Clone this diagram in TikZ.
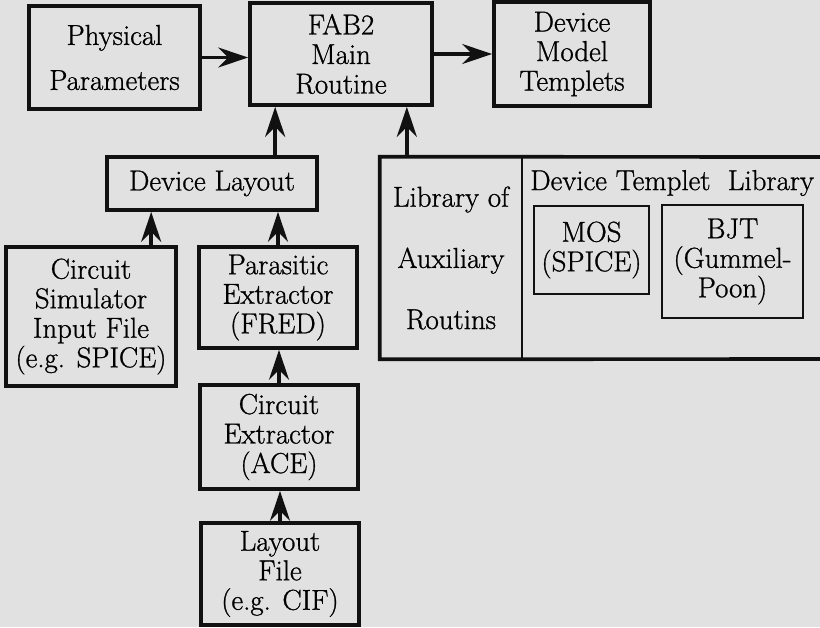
\documentclass[tikz,border=0pt]{standalone}
\usepackage{fontspec}
\setmainfont{Latin Modern Roman}[FakeBold=0.9]
\usetikzlibrary{arrows.meta}
\definecolor{fabpaper}{RGB}{225,225,225}
\definecolor{fabink}{RGB}{17,17,17}
\tikzset{
	blk/.style={draw=fabink, line width=2.6pt, align=center, inner sep=0pt, font=\fontsize{20.5}{21}\selectfont},
	subblk/.style={draw=fabink, line width=1.3pt, align=center, inner sep=0pt, font=\fontsize{20.5}{21}\selectfont},
	lbl/.style={align=center, inner sep=0pt, font=\fontsize{20.5}{21}\selectfont},
	libframe/.style={draw=fabink, line width=2.6pt},
	divider/.style={draw=fabink, line width=1.3pt},
	feed/.style={draw=fabink, line width=2.6pt, -{Stealth[length=0.75cm, width=0.5cm, inset=0.25cm]}}
}

\begin{document}
\begin{tikzpicture}[x=0.025cm,y=-0.025cm]
		
		\useasboundingbox (0,0) rectangle (820,627);
		\fill[fabpaper] (0,0) rectangle (820,627);
		
		\node[blk, minimum width=4.275cm, minimum height=2.575cm, font=\fontsize{20.5}{32}\selectfont] (phys) at (114.5,57.5) {Physical\\Parameters};
		\node[blk, minimum width=4.55cm, minimum height=2.55cm] (fab) at (341,54) {FAB2\\Main\\Routine};
		\node[blk, minimum width=3.9cm, minimum height=2.6cm] (dmt) at (572,54) {Device\\Model\\Templets};
		\node[blk, minimum width=5.25cm, minimum height=1.325cm] (dlay) at (212,183.5) {Device Layout};
		\node[blk, minimum width=4.25cm, minimum height=3.475cm] (csim) at (91,316.5) {Circuit\\Simulator\\Input File\\(e.g. SPICE)};
		\node[blk, minimum width=3.95cm, minimum height=2.525cm] (para) at (278,297.5) {Parasitic\\Extractor\\(FRED)};
		\node[blk, minimum width=3.95cm, minimum height=2.6cm] (cext) at (279,437) {Circuit\\Extractor\\(ACE)};
		\node[blk, minimum width=3.95cm, minimum height=2.55cm] (lay) at (280,574) {Layout\\File\\(e.g. CIF)};
		
		\node[lbl, minimum width=3.55cm, minimum height=5.05cm, font=\fontsize{20.5}{43.5}\selectfont] (aux) at (451,258) {Library of\\Auxiliary\\Routins};
		\draw[libframe] (825,157) -- (aux.north west) -- (aux.south west) -- (825,359);
		\draw[divider] (aux.north east) -- (aux.south east);
		\node[lbl, anchor=west] (dtl) at (530,183) {Device Templet\ \ Library};
		\node[subblk, minimum width=2.875cm, minimum height=2.2cm] (mos) at (591.5,250) {MOS\\(SPICE)};
		\node[subblk, minimum width=3.525cm, minimum height=2.825cm] (bjt) at (732.5,261.5) {BJT\\(Gummel-\\Poon)};
		
		\coordinate (fabL) at ([xshift=0.675cm]fab.south west);
		\coordinate (fabR) at ([xshift=-0.675cm]fab.south east);
		\coordinate (dlayL) at ([xshift=1.15cm]dlay.south west);
		
		\draw[feed] (phys.east) -- (phys.east -| fab.west);
		\draw[feed] (fab.east) -- (dmt.west);
		\draw[feed] (dlay.north -| fabL) -- (fabL);
		\draw[feed] (aux.north -| fabR) -- (fabR);
		\draw[feed] (csim.north -| dlayL) -- (dlayL);
		\draw[feed] (para.north) -- (para.north |- dlay.south);
		\draw[feed] (cext.north) -- (cext.north |- para.south);
		\draw[feed] (lay.north) -- (lay.north |- cext.south);
		
	\end{tikzpicture}
\end{document}
